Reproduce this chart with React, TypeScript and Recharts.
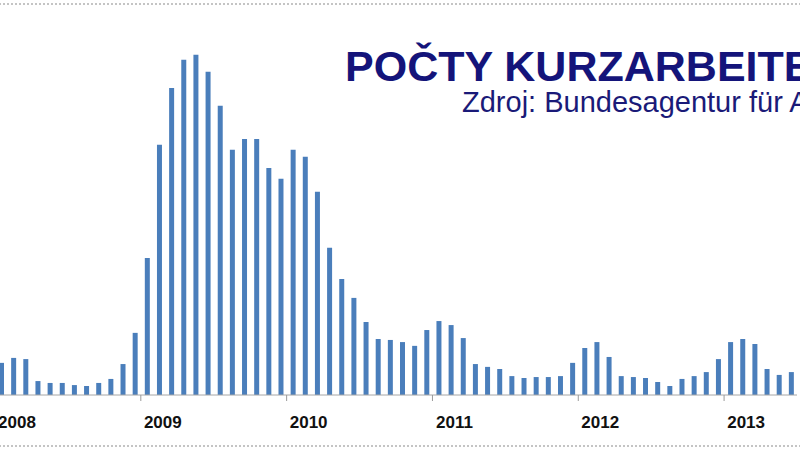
import { BarChart, Bar, XAxis, YAxis } from "recharts";

// počty Kurzarbeiter (tis.), měsíčně
const years = ["2008", "2009", "2010", "2011", "2012", "2013"];
const monthNums = ["01", "02", "03", "04", "05", "06", "07", "08", "09", "10", "11", "12"];

const v2008 = [136, 157, 152, 59, 51, 51, 42, 38, 51, 68, 131, 263];
const v2009 = [580, 1059, 1300, 1419, 1440, 1368, 1224, 1038, 1084, 1084, 961, 915];
const v2010 = [1038, 1008, 860, 623, 491, 411, 309, 237, 233, 224, 208, 275];
const v2011 = [313, 296, 241, 131, 119, 110, 80, 72, 76, 76, 80, 136];
const v2012 = [199, 224, 161, 80, 76, 72, 55, 38, 68, 80, 97, 152];
const v2013 = [224, 237, 216, 110, 85, 97];

const values = [...v2008, ...v2009, ...v2010, ...v2011, ...v2012, ...v2013];
const months = years.flatMap((y) => monthNums.map((m) => `${y}-${m}`)).slice(0, values.length);

const data = months.map((m, i) => ({ month: m, value: values[i] }));

const YearTick = (props: any) => {
  const { x, y, payload } = props;
  const label: string = payload.value;
  if (!label.endsWith("-01")) return null;
  const half = payload.offset ?? 6;
  const x0 = x - half;
  return (
    <g>
      <line x1={x0} x2={x0} y1={y} y2={y + 6} stroke="#9a9a9a" strokeWidth={1} />
      <text
        x={x0 + 22}
        y={y + 33}
        textAnchor="middle"
        fontFamily="'Liberation Sans', Arial, sans-serif"
        fontWeight="bold"
        fontSize={17}
        fill="#111"
      >
        {label.slice(0, 4)}
      </text>
    </g>
  );
};

export default function App() {
  return (
    <div
      style={{
        position: "fixed",
        left: 0,
        top: 0,
        width: 800,
        height: 450,
        overflow: "hidden",
        background: "#fff",
      }}
    >
      {/* rámeček grafu */}
      <div
        style={{
          position: "absolute",
          left: -20,
          top: 3,
          width: 840,
          height: 440,
          borderTop: "2px dotted #c4c4c4",
          borderBottom: "2px dotted #c4c4c4",
        }}
      />
      <div style={{ position: "absolute", left: -20, top: 0 }}>
        <BarChart
          width={825}
          height={450}
          data={data}
          margin={{ top: 17, right: 8, left: 15, bottom: 25 }}
          barCategoryGap={0}
        >
          <XAxis
            dataKey="month"
            interval={0}
            height={30}
            tickSize={0}
            tickMargin={0}
            tickLine={false}
            axisLine={{ stroke: "#a6a6a6" }}
            tick={<YearTick />}
          />
          <YAxis hide domain={[0, 1600]} />
          <Bar dataKey="value" fill="#4a7ebb" barSize={5} isAnimationActive={false} />
        </BarChart>
      </div>
      <div
        style={{
          position: "absolute",
          left: 345,
          top: 45,
          whiteSpace: "nowrap",
          fontFamily: "'Liberation Sans', Arial, sans-serif",
          fontWeight: "bold",
          fontSize: 43,
          lineHeight: "43px",
          color: "#14147a",
        }}
      >
        POČTY KURZARBEITERŮ
      </div>
      <div
        style={{
          position: "absolute",
          left: 462,
          top: 88,
          whiteSpace: "nowrap",
          fontFamily: "'Liberation Sans', Arial, sans-serif",
          fontSize: 29,
          lineHeight: "29px",
          color: "#1a1a78",
        }}
      >
        Zdroj: Bundesagentur für Arbeit
      </div>
    </div>
  );
}
